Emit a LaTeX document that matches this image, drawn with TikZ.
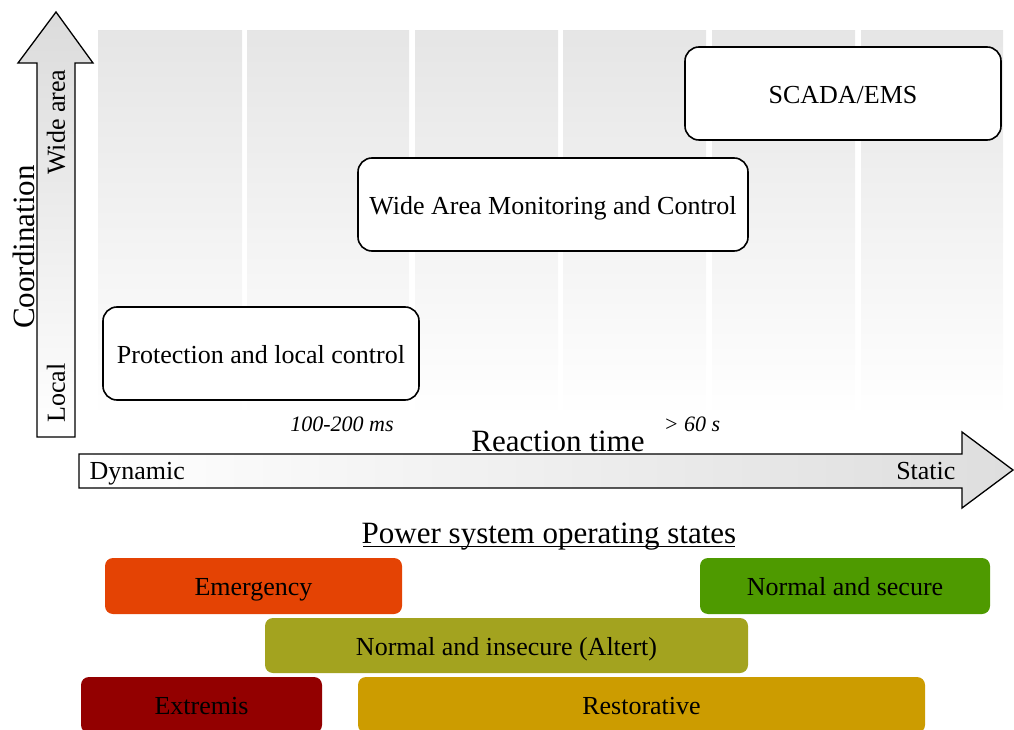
\documentclass[tikz,border=0pt]{standalone}
\usepackage{fontspec}
\setmainfont{Liberation Serif}
\begin{document}
\begin{tikzpicture}[x=1pt,y=1pt,
  column/.style={top color=black!10,bottom color=white,draw=none},
  layer/.style={draw=black,line width=1.6pt,rounded corners=14pt,fill=white,
    inner sep=0pt,text height=23pt,text depth=2pt,font=\fontsize{26}{30}\selectfont},
  statebox/.style={rounded corners=8pt,inner sep=0pt,minimum height=56pt,
    text height=21pt,text depth=2pt,text=black,font=\fontsize{26}{30}\selectfont},
  axisarrow/.style={draw=black,line width=1.3pt,line join=miter},
  big/.style={font=\fontsize{31}{36}\selectfont},
  mid/.style={font=\fontsize{26}{30}\selectfont},
  small/.style={font=\fontsize{22}{26}\selectfont\itshape}]
\definecolor{emerg}{HTML}{E44304}
\definecolor{secure}{HTML}{4E9A00}
\definecolor{insecure}{HTML}{A3A31F}
\definecolor{extrem}{HTML}{930000}
\definecolor{restor}{HTML}{CC9C00}
\useasboundingbox (0,0) rectangle (1014,729);

% time-scale background columns
\foreach \a/\b in {98/242,247/409,415/558,563/706,712/855,861/1003}
  \shade[column] (\a,312) rectangle (\b,698);

% coordination axis
\shade[axisarrow,top color=black!14,bottom color=white]
  (37,292) -- (37,666) -- (18,666) -- (56,717) -- (93,666) -- (75,666) -- (75,292) -- cycle;
\node[big,rotate=90] (coord) at (24,482) {Coordination};
\node[mid,rotate=90] (wide) at (56,607) {Wide area};
\node[mid,rotate=90] (local) at (56,336) {Local};

% reaction time axis
\shade[axisarrow,left color=white,right color=black!13]
  (79,241) -- (79,275) -- (962,275) -- (962,297) -- (1013,259) -- (962,221) -- (962,241) -- cycle;
\node[mid,anchor=base west] (dyn) at (86,250) {Dynamic};
\node[mid,anchor=base east] (stat) at (959,250) {Static};
\node[big] (rt) at (558,288) {Reaction time};
\node[small] (t1) at (342,305) {100-200 ms};
\node[small] (t2) at (692,305) {> 60 s};

% control layers
\node[layer,minimum width=316pt,minimum height=93pt] (prot) at (261,375.5) {Protection and local control};
\node[layer,minimum width=390pt,minimum height=93pt] (wamc) at (553,524.5) {Wide Area Monitoring and Control};
\node[layer,minimum width=316pt,minimum height=93pt] (scada) at (843,635.5) {SCADA/EMS};

% operating states
\node[big,anchor=base] (ops) at (549,186) {Power system operating states};
\draw[line width=1.3pt] ([yshift=-3.5pt]ops.base west) ++(5pt,0) -- ([yshift=-3.5pt,xshift=-5pt]ops.base east);
\node[statebox,fill=emerg,minimum width=297pt] (em) at (253.5,143) {Emergency};
\node[statebox,fill=secure,minimum width=290pt] (ns) at (845,143) {Normal and secure};
\node[statebox,fill=insecure,minimum width=483pt,minimum height=55pt] (ni) at (506.5,83.5) {Normal and insecure (Altert)};
\node[statebox,fill=extrem,minimum width=241pt] (ex) at (201.5,24) {Extremis};
\node[statebox,fill=restor,minimum width=567pt] (re) at (641.5,24) {Restorative};
\end{tikzpicture}
\end{document}
